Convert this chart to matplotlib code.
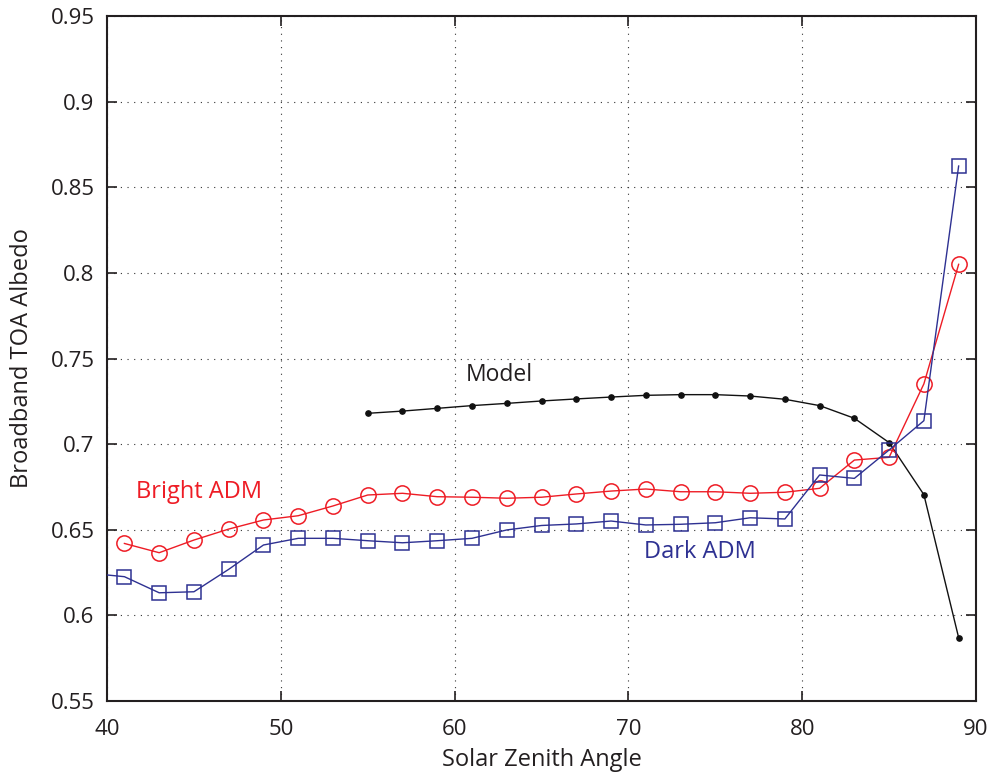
import matplotlib.pyplot as plt
import numpy as np

plt.rcParams['font.family'] = ['Open Sans', 'DejaVu Sans']

# solar zenith angles of the ADM samples
sza = np.arange(41, 90, 2)

bright_adm = [0.642, 0.6366, 0.644, 0.6504, 0.6557, 0.6582, 0.6639, 0.6703,
              0.6713, 0.6693, 0.669, 0.6684, 0.669, 0.6709, 0.6726, 0.6738,
              0.6722, 0.6722, 0.6713, 0.6719, 0.6742, 0.6907, 0.6923, 0.7352,
              0.805]

dark_adm = [0.6226, 0.6132, 0.6138, 0.6269, 0.6411, 0.645, 0.645, 0.6436,
            0.6424, 0.6436, 0.645, 0.6499, 0.6525, 0.6534, 0.6551, 0.6528,
            0.6532, 0.6541, 0.657, 0.6563, 0.682, 0.68, 0.6966, 0.7137,
            0.8624]
# dark curve runs on to the left edge
dark_start = (40, 0.6236)

sza_model = np.arange(55, 90, 2)
model = [0.718, 0.7193, 0.7209, 0.7225, 0.7238, 0.7252, 0.7264, 0.7275,
         0.7285, 0.7289, 0.7289, 0.7281, 0.7262, 0.7225, 0.7151, 0.7009,
         0.6705, 0.587]

red = '#ee1c25'
blue = '#2e3192'
ink = '#231f20'

fig = plt.figure(figsize=(9.93, 7.74), dpi=100)
ax = fig.add_axes([0.1078, 0.0943, 0.8751, 0.885])

ax.plot(sza_model, model, '-', color='#111111', lw=1.0,
        marker='o', ms=3.8, mfc='#111111', mec='#111111', zorder=2)
ax.plot(sza, bright_adm, '-', color=red, lw=1.0,
        marker='o', ms=11, mfc='none', mec=red, mew=1.1, zorder=3)
dx = np.concatenate([[dark_start[0]], sza])
dy = np.concatenate([[dark_start[1]], dark_adm])
ax.plot(dx, dy, '-', color=blue, lw=1.0, marker='s', ms=9.5,
        mfc='none', mec=blue, mew=1.1, markevery=list(range(1, len(dx))),
        zorder=3)

ax.text(62.55, 0.7404, 'Model', color=ink, fontsize=16.5,
        ha='center', va='center')
ax.text(45.3, 0.672, 'Bright ADM', color=red, fontsize=17,
        ha='center', va='center')
ax.text(74.1, 0.637, 'Dark ADM', color=blue, fontsize=17,
        ha='center', va='center')

ax.set_xlim(40, 90)
ax.set_ylim(0.55, 0.95)
ax.set_xticks(np.arange(40, 91, 10))
ax.set_yticks(np.arange(0.55, 0.951, 0.05))
ax.set_yticklabels(['0.55', '0.6', '0.65', '0.7', '0.75', '0.8', '0.85',
                    '0.9', '0.95'])
ax.grid(True, linestyle=(0, (1, 5)), color='#333333', lw=0.8)
ax.tick_params(direction='in', length=7, width=1.2, labelsize=16,
               top=True, right=True, colors=ink)
ax.tick_params(axis='x', pad=13)
ax.tick_params(axis='y', pad=9)
for s in ax.spines.values():
    s.set_linewidth(1.5)
    s.set_color(ink)

ax.set_xlabel('Solar Zenith Angle', fontsize=17, color=ink, labelpad=6)
ax.set_ylabel('Broadband TOA Albedo', fontsize=17, color=ink, labelpad=12)

fig.savefig('out.png', dpi=100)
